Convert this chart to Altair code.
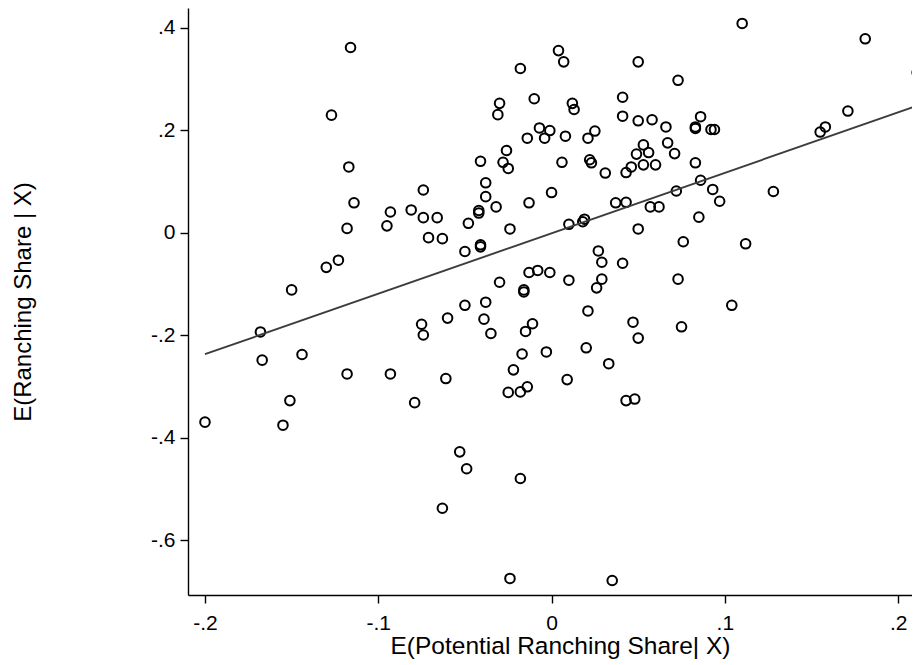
import altair as alt
import pandas as pd

# E(Potential Ranching Share | X)
x_vals = [
    -0.116, -0.127, -0.117, -0.074, -0.114, -0.093, -0.081, -0.074, -0.066, -0.118,
    -0.095, -0.071, -0.123, -0.130, -0.150, -0.168, -0.075, -0.074, -0.167, -0.144,
    -0.118, -0.093, -0.151, -0.079, -0.200, -0.155,
    0.004, 0.007, 0.050, -0.018, 0.073, -0.030, -0.031, -0.010, 0.012, 0.013,
    0.041, 0.041, 0.050, 0.058, 0.066, -0.007, -0.001, -0.014, -0.004, 0.008,
    0.021, 0.025, 0.067, 0.071, 0.053, 0.049, 0.056, 0.053, 0.060, 0.046,
    0.043, -0.026, -0.041, -0.028, -0.025, 0.006, 0.022, 0.023, 0.031, -0.038,
    -0.038, -0.032, -0.042, -0.042, -0.013, 0.000, 0.037, 0.043, 0.072, 0.057, 0.062,
    -0.063, -0.048, -0.024, -0.050, -0.041, -0.041, 0.010, 0.018, 0.019, 0.050,
    0.027, 0.029, 0.041, 0.029, 0.026, 0.010, -0.013, -0.008, -0.001, -0.030,
    -0.016, -0.016, -0.050, -0.038, -0.060, -0.039, -0.035, -0.015, -0.011, 0.021,
    0.047, 0.050, -0.017, -0.003, 0.020, 0.033, -0.022, -0.061, 0.009, -0.025,
    -0.018, -0.014, 0.043, 0.048,
    -0.053, -0.049, -0.018, -0.063, -0.024, 0.035,
    0.097, 0.085, 0.076, 0.112, 0.073, 0.104, 0.075,
    0.110, 0.181, 0.211, 0.086, 0.083, 0.083, 0.092, 0.094, 0.083, 0.086, 0.093,
    0.128, 0.155, 0.158, 0.171,
]

# E(Ranching Share | X)
y_vals = [
    0.361, 0.229, 0.128, 0.083, 0.058, 0.040, 0.044, 0.029, 0.029, 0.008,
    0.013, -0.010, -0.054, -0.068, -0.112, -0.194, -0.179, -0.200, -0.249, -0.238,
    -0.276, -0.276, -0.328, -0.332, -0.370, -0.376,
    0.355, 0.333, 0.333, 0.320, 0.297, 0.252, 0.230, 0.261, 0.252, 0.240,
    0.264, 0.227, 0.218, 0.220, 0.206, 0.204, 0.199, 0.184, 0.184, 0.188,
    0.184, 0.198, 0.175, 0.154, 0.171, 0.153, 0.156, 0.132, 0.132, 0.128,
    0.117, 0.160, 0.139, 0.137, 0.125, 0.137, 0.142, 0.136, 0.116, 0.097,
    0.070, 0.050, 0.043, 0.038, 0.058, 0.078, 0.058, 0.059, 0.081, 0.050, 0.050,
    -0.012, 0.018, 0.007, -0.037, -0.028, -0.024, 0.016, 0.021, 0.026, 0.007,
    -0.036, -0.058, -0.060, -0.091, -0.108, -0.093, -0.078, -0.074, -0.078, -0.097,
    -0.112, -0.116, -0.142, -0.136, -0.167, -0.169, -0.197, -0.193, -0.178, -0.153,
    -0.175, -0.206, -0.237, -0.233, -0.225, -0.256, -0.268, -0.285, -0.287, -0.312,
    -0.311, -0.301, -0.328, -0.325,
    -0.428, -0.461, -0.480, -0.538, -0.675, -0.679,
    0.061, 0.030, -0.018, -0.022, -0.091, -0.142, -0.184,
    0.408, 0.378, 0.312, 0.226, 0.206, 0.203, 0.201, 0.201, 0.136, 0.102, 0.084,
    0.080, 0.196, 0.206, 0.237,
]

x_ticks = [-0.2, -0.1, 0.0, 0.1, 0.2]
y_ticks = [-0.6, -0.4, -0.2, 0.0, 0.2, 0.4]
x_domain = [-0.2098, 0.2080]
y_domain = [-0.7073, 0.4381]

df = pd.DataFrame({"x": x_vals, "y": y_vals})

FONT = "Liberation Sans"
stata_label = ("datum.value == 0 ? '0' : (datum.value < 0 ? '-' : '') + "
               "slice(format(abs(datum.value), '.1f'), 1)")

xenc = alt.X(
    "x:Q",
    scale=alt.Scale(domain=x_domain, nice=False, zero=False),
    axis=alt.Axis(
        title="E(Potential Ranching Share| X)",
        values=x_ticks, labelExpr=stata_label,
        grid=False, domainColor="black", domainWidth=1.4,
        tickColor="black", tickWidth=1.4, tickSize=8,
        labelFont=FONT, labelFontSize=21, labelColor="black", labelPadding=9,
        titleFont=FONT, titleFontSize=24.5, titleFontWeight="normal", titleColor="black",
        titleBaseline="alphabetic", titleX=372, titleY=58,
    ),
)
yenc = alt.Y(
    "y:Q",
    scale=alt.Scale(domain=y_domain, nice=False, zero=False),
    axis=alt.Axis(
        title="E(Ranching Share | X)",
        values=y_ticks, labelExpr=stata_label,
        grid=False, domainColor="black", domainWidth=1.4,
        tickColor="black", tickWidth=1.4, tickSize=8,
        labelFont=FONT, labelFontSize=21, labelColor="black", labelPadding=5,
        titleFont=FONT, titleFontSize=24, titleFontWeight="normal", titleColor="black",
        titleBaseline="middle", titleX=-165,
    ),
)

points = alt.Chart(df).mark_point(
    shape="circle", filled=False, color="black", strokeWidth=2, size=92, opacity=1
).encode(x=xenc, y=yenc)

fit = alt.Chart(df).transform_regression("x", "y").mark_line(
    color="#3c3c3c", strokeWidth=1.9
).encode(x="x:Q", y="y:Q")

chart = (points + fit).properties(
    width=724, height=587,
    background="white",
    autosize=alt.AutoSizeParams(type="none"),
    padding={"left": 180, "top": 0, "right": 0, "bottom": 68},
).configure_view(stroke=None)

chart.save("out.html", embed_options={"renderer": "svg", "actions": False})
